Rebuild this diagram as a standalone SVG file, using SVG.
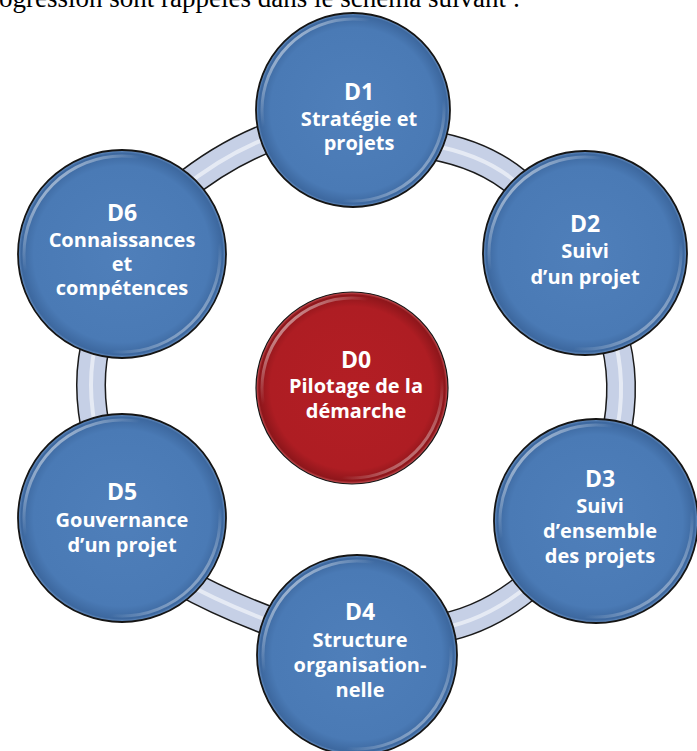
<svg xmlns="http://www.w3.org/2000/svg" width="697" height="751" viewBox="0 0 697 751">
<defs>
<radialGradient id="blueFill" cx="0.5" cy="0.5" r="0.5">
<stop offset="0" stop-color="#4f7fba"/>
<stop offset="0.85" stop-color="#4a7ab5"/>
<stop offset="0.97" stop-color="#3d689f"/>
<stop offset="1" stop-color="#6f97c9"/>
</radialGradient>
<radialGradient id="redFill" cx="0.5" cy="0.5" r="0.5">
<stop offset="0" stop-color="#b31e24"/>
<stop offset="0.85" stop-color="#ae1d23"/>
<stop offset="0.97" stop-color="#8e161b"/>
<stop offset="1" stop-color="#d05a5e"/>
</radialGradient>
<linearGradient id="rim" x1="0" y1="0" x2="1" y2="1">
<stop offset="0" stop-color="#ffffff" stop-opacity="0.9"/>
<stop offset="0.3" stop-color="#ffffff" stop-opacity="0"/>
<stop offset="0.72" stop-color="#ffffff" stop-opacity="0"/>
<stop offset="1" stop-color="#ffffff" stop-opacity="0.75"/>
</linearGradient>
</defs>
<style>
.band-o{fill:none;stroke:#1b1b1b;stroke-width:30}
.band-f{fill:none;stroke:#c6d0e6;stroke-width:27}
.band-h{fill:none;stroke:#ffffff;stroke-width:4;stroke-opacity:0.55}
.ball{fill:url(#blueFill);stroke:#151515;stroke-width:1.8}
.ball0{fill:url(#redFill);stroke:#151515;stroke-width:1.2}
.rim{fill:none;stroke:url(#rim);stroke-width:3}
.t{font-family:"Open Sans","Noto Sans",sans-serif;font-weight:bold;fill:#ffffff;text-anchor:middle;font-size:20px}
.h{font-size:23px}
.top{font-family:"Liberation Serif","Times New Roman",serif;font-size:27px;fill:#000000}
</style>
<rect width="697" height="751" fill="#ffffff"/>
<text class="top" x="-1" y="7">ogression sont rappelés dans le schéma suivant :</text>
<g id="connectors">
<g id="c61"><path class="band-o" d="M180,190 Q224.5,153.5 275,135"/><path class="band-f" d="M180,190 Q224.5,153.5 275,135"/><path class="band-h" d="M180,190 Q224.5,153.5 275,135"/></g>
<g id="c12"><path class="band-o" d="M430,145 Q494,156 530,195"/><path class="band-f" d="M430,145 Q494,156 530,195"/><path class="band-h" d="M430,145 Q494,156 530,195"/></g>
<g id="c23"><path class="band-o" d="M612,330 Q628.5,381 615,440"/><path class="band-f" d="M612,330 Q628.5,381 615,440"/><path class="band-h" d="M612,330 Q628.5,381 615,440"/></g>
<g id="c34"><path class="band-o" d="M535,580 Q486,623 430,630"/><path class="band-f" d="M535,580 Q486,623 430,630"/><path class="band-h" d="M535,580 Q486,623 430,630"/></g>
<g id="c45"><path class="band-o" d="M180,580 Q220,603 280,625"/><path class="band-f" d="M180,580 Q220,603 280,625"/><path class="band-h" d="M180,580 Q220,603 280,625"/></g>
<g id="c56"><path class="band-o" d="M98,335 Q84,382.5 98,440"/><path class="band-f" d="M98,335 Q84,382.5 98,440"/><path class="band-h" d="M98,335 Q84,382.5 98,440"/></g>
</g>
<g id="D1"><circle class="ball" cx="353" cy="110" r="97"/><circle class="rim" cx="353" cy="110" r="91"/>
<text class="t h" x="359" y="100">D1</text><text class="t" x="359" y="126">Stratégie et</text><text class="t" x="359" y="150">projets</text></g>
<g id="D2"><circle class="ball" cx="585" cy="253" r="102"/><circle class="rim" cx="585" cy="253" r="96"/>
<text class="t h" x="585" y="232">D2</text><text class="t" x="585" y="258">Suivi</text><text class="t" x="585" y="284">d’un projet</text></g>
<g id="D3"><circle class="ball" cx="596" cy="521" r="102"/><circle class="rim" cx="596" cy="521" r="96"/>
<text class="t h" x="600" y="487">D3</text><text class="t" x="600" y="513">Suivi</text><text class="t" x="600" y="538">d’ensemble</text><text class="t" x="600" y="563">des projets</text></g>
<g id="D4"><circle class="ball" cx="357" cy="655" r="100"/><circle class="rim" cx="357" cy="655" r="94"/>
<text class="t h" x="360" y="620">D4</text><text class="t" x="360" y="647">Structure</text><text class="t" x="360" y="672">organisation-</text><text class="t" x="360" y="697">nelle</text></g>
<g id="D5"><circle class="ball" cx="122" cy="518" r="104"/><circle class="rim" cx="122" cy="518" r="98"/>
<text class="t h" x="122" y="500">D5</text><text class="t" x="122" y="527">Gouvernance</text><text class="t" x="122" y="552">d’un projet</text></g>
<g id="D6"><circle class="ball" cx="122" cy="254" r="104"/><circle class="rim" cx="122" cy="254" r="98"/>
<text class="t h" x="122" y="221">D6</text><text class="t" x="122" y="247">Connaissances</text><text class="t" x="122" y="271">et</text><text class="t" x="122" y="295">compétences</text></g>
<g id="D0"><circle class="ball0" cx="352" cy="388" r="96"/><circle class="rim" cx="352" cy="388" r="90"/>
<text class="t h" x="356" y="368">D0</text><text class="t" x="356" y="393">Pilotage de la</text><text class="t" x="356" y="418">démarche</text></g>
</svg>
